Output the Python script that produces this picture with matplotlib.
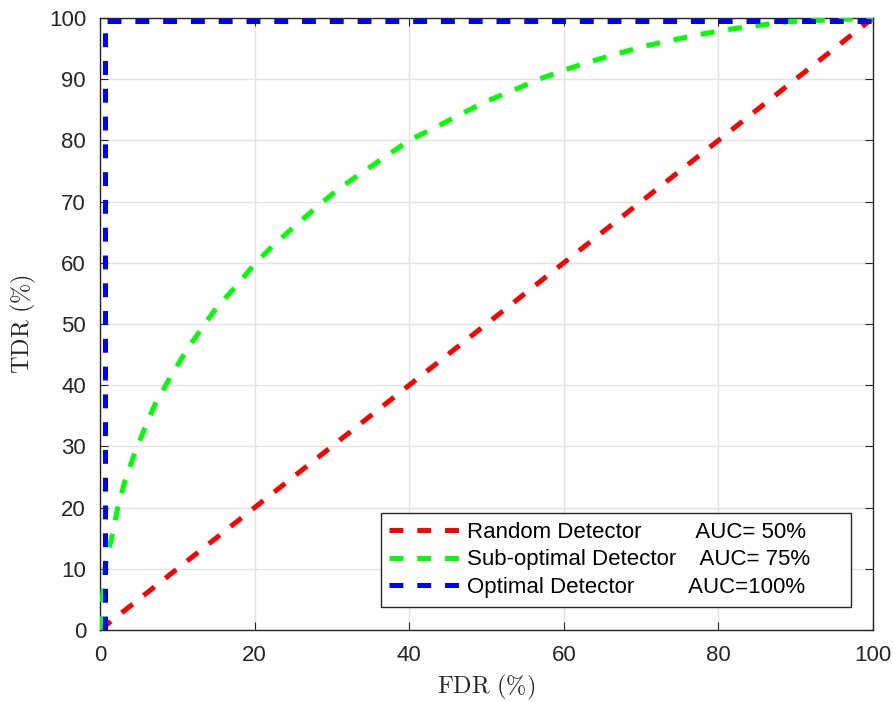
import matplotlib
matplotlib.use('Agg')
import matplotlib.pyplot as plt

# ROC curves of three detectors (FDR vs TDR, in %)
fdr_random = [0, 100]
tdr_random = [0, 100]

fdr_subopt = [0, 0.3, 0.65, 1.5, 2.3, 3.2, 4.4, 5.8, 7.2, 9.1, 11, 13.1, 15.1, 17.7, 20, 22.6,
              25.4, 28.2, 31, 34.1, 37.1, 40, 43.5, 46.7, 50, 53.5, 56.8, 60.3, 63.8, 67.3,
              70.8, 74.5, 78, 81.7, 85.3, 89, 92.7, 96.4, 100]
tdr_subopt = [0, 5, 10.3, 15, 20, 24.2, 28.6, 33, 37.1, 41.3, 45.3, 49.2, 52.7, 56.3, 59.8, 63.1,
              66.2, 69.3, 72.2, 74.9, 77.5, 80, 82.2, 84.3, 86.4, 88.2, 90, 91.6, 93, 94.3,
              95.5, 96.5, 97.4, 98.2, 98.8, 99.4, 99.6, 99.8, 100]

fdr_opt = [0.6, 0.6, 100]
tdr_opt = [0, 99.5, 99.5]

labels = ['Random Detector         AUC= 50%     ',
          'Sub-optimal Detector    AUC= 75%     ',
          'Optimal Detector         AUC=100%      ']

ticks = [0, 20, 40, 60, 80, 100]
yticks = list(range(0, 101, 10))

plt.rcParams['font.family'] = ['Liberation Sans', 'DejaVu Sans']
plt.rcParams['mathtext.fontset'] = 'cm'
plt.rcParams['lines.scale_dashes'] = False

fig = plt.figure(figsize=(8.93, 7.02), dpi=100)
ax = fig.add_axes([100/893, 1-630/702, 773/893, 612/702])

dash = (0, (10, 10))
ax.plot(fdr_random, tdr_random, color='#ff0000', lw=3.6, linestyle=dash,
        dash_capstyle='butt', label=labels[0], zorder=3)
ax.plot(fdr_subopt, tdr_subopt, color='#00ff00', lw=3.6, linestyle=dash,
        dash_capstyle='butt', label=labels[1], zorder=3)
ax.plot(fdr_opt, tdr_opt, color='#0000ff', lw=3.6, linestyle=dash,
        dash_capstyle='butt', label=labels[2], zorder=4)

ax.set_xlim(0, 100)
ax.set_ylim(0, 100)
ax.set_xticks(ticks)
ax.set_yticks(yticks)
ax.grid(True, color='#e3e3e3', lw=1.0)
ax.set_axisbelow(True)

for s in ax.spines.values():
    s.set_color('#262626')
    s.set_linewidth(1.0)
ax.tick_params(direction='in', length=5.5, width=0.8, color='#262626',
               top=True, right=True, labelsize=16, labelcolor='#262626')
ax.tick_params(axis='x', pad=11)
ax.tick_params(axis='y', pad=10)

ax.set_xlabel(r'$\mathrm{FDR\ (\%)}$', fontsize=17.5, color='#262626', labelpad=5)
ax.set_ylabel(r'$\mathrm{TDR\ (\%)}$', fontsize=17.5, color='#262626', labelpad=8)

leg = ax.legend(loc='lower right', bbox_to_anchor=(851/893, 1-607/702),
                bbox_transform=fig.transFigure, fontsize=16, frameon=True,
                fancybox=False, edgecolor='#262626', framealpha=1,
                handlelength=3.2, handletextpad=0.3, borderpad=0.4,
                labelspacing=0.3, borderaxespad=0)
leg.get_frame().set_linewidth(1.0)

fig.savefig('out.png', dpi=100)
plt.close(fig)
